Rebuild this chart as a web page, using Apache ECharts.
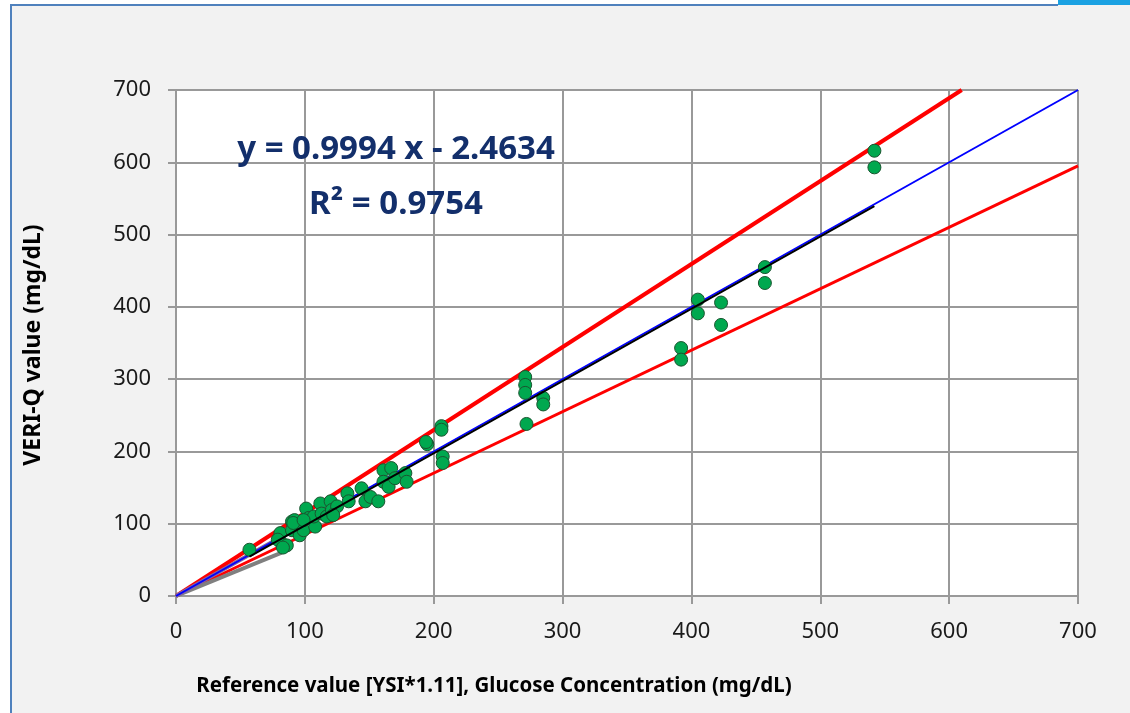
<!DOCTYPE html>
<html>
<head>
<meta charset="utf-8">
<script src="https://cdn.jsdelivr.net/npm/echarts@6/dist/echarts.min.js"></script>
<style>html,body{margin:0;padding:0;background:#fff}#c{width:1130px;height:713px}</style>
</head>
<body>
<div id="c"></div>
<script>
// Reference value (x) and VERI-Q value (y)
const refX = [57,81,82,79,86,83,90,92,94,90,96,99,101,103,108,107,91,99,112,113,117,120,121,125,122,133,134,144,147,151,157,161,167,161,165,170,178,179,195,194,206,206,207,207,271,271,271,272,285,285,392,392,405,405,423,423,457,457,542,542];
const veriY = [64,87,73,78,70,67,103,105,96,91,84,91,121,108,96,110,101,105,128,114,110,131,119,124,112,142,131,149,131,137,131,174,177,158,151,163,170,158,210,213,235,230,193,184,303,292,281,238,274,265,343,327,410,391,406,375,455,433,616,593];
const axisTicks = [0,100,200,300,400,500,600,700];
const regSlope = 0.9994, regIntercept = -2.4634;
const regRange = [57, 542];
const upperSlope = 1.148, lowerSlope = 0.85;
const identityLine = [[0,0],[700,700]];
const purpleSeg = [[0,0],[76,76]];
const graySeg = [[0,0],[82,60]];
const eqText = 'y = 0.9994 x - 2.4634';
const r2Text = 'R\u00b2 = 0.9754';
const xTitle = 'Reference value [YSI*1.11], Glucose Concentration (mg/dL)';
const yTitle = 'VERI-Q value (mg/dL)';

const AX_MIN = axisTicks[0], AX_MAX = axisTicks[axisTicks.length-1];
const upperLine = [[0,0],[AX_MAX/upperSlope, AX_MAX]];
const lowerLine = [[0,0],[AX_MAX, AX_MAX*lowerSlope]];
const regLine = regRange.map(x => [x, regSlope*x + regIntercept]);
const pts = refX.map((x,i) => [x, veriY[i]]);

const gridColor = '#999999';
const font = '"Noto Sans", "DejaVu Sans", sans-serif';
const axisCommon = {
  type: 'value', min: AX_MIN, max: AX_MAX, interval: 100,
  axisLine: {show: true, lineStyle: {color: gridColor, width: 2}},
  axisTick: {show: true, length: 8, lineStyle: {color: gridColor, width: 2}},
  splitLine: {show: true, lineStyle: {color: gridColor, width: 2}},
};
const lineSeries = (data, color, width, z) => ({
  type: 'line', data, showSymbol: false, symbol: 'none', silent: true,
  lineStyle: {color, width}, z, animation: false
});

const chart = echarts.init(document.getElementById('c'));
chart.setOption({
  backgroundColor: '#F2F2F2',
  animation: false,
  grid: {left: 176, top: 90, width: 902, height: 506, show: true, backgroundColor: '#ffffff', borderWidth: 0},
  xAxis: Object.assign({}, axisCommon, {
    axisLabel: {fontSize: 22, color: '#1a1a1a', margin: 25, fontFamily: font}
  }),
  yAxis: Object.assign({}, axisCommon, {
    axisLabel: {fontSize: 22, color: '#1a1a1a', margin: 25, fontFamily: font}
  }),
  series: [
    lineSeries(upperLine, '#FF0000', 4, 2),
    lineSeries(lowerLine, '#FF0000', 3, 2),
    lineSeries(graySeg, '#808080', 4, 3),
    lineSeries(purpleSeg, '#8064A2', 4, 3),
    lineSeries(identityLine, '#0000FF', 2, 3),
    {type: 'scatter', data: pts, symbolSize: 13, z: 4, animation: false,
     itemStyle: {color: '#00A84F', opacity: 1, borderColor: '#1a5530', borderWidth: 1}},
    lineSeries(regLine, '#000000', 2, 5)
  ],
  graphic: [
    {type: 'rect', shape: {x: 0, y: 0, width: 1130, height: 4}, style: {fill: '#ffffff'}, silent: true},
    {type: 'rect', shape: {x: 0, y: 0, width: 10, height: 713}, style: {fill: '#ffffff'}, silent: true},
    {type: 'rect', shape: {x: 10, y: 4, width: 1048, height: 2}, style: {fill: '#4F81BD'}, silent: true},
    {type: 'rect', shape: {x: 10, y: 4, width: 2, height: 709}, style: {fill: '#4F81BD'}, silent: true},
    {type: 'rect', shape: {x: 1058, y: 0, width: 72, height: 5}, style: {fill: '#1BA1E2'}, silent: true},
    {type: 'text', x: 396, y: 150, z: 10, style: {text: eqText, font: 'bold 33px ' + font, fill: '#132F6B', textAlign: 'center', textVerticalAlign: 'middle'}},
    {type: 'text', x: 396, y: 205, z: 10, style: {text: r2Text, font: 'bold 33px ' + font, fill: '#132F6B', textAlign: 'center', textVerticalAlign: 'middle'}},
    {type: 'text', x: 33, y: 345, rotation: Math.PI/2, z: 10, style: {text: yTitle, font: 'bold 23px ' + font, fill: '#000000', textAlign: 'center', textVerticalAlign: 'middle'}},
    {type: 'text', x: 494, y: 686, z: 10, style: {text: xTitle, font: 'bold 20.5px ' + font, fill: '#000000', textAlign: 'center', textVerticalAlign: 'middle'}}
  ]
});
</script>
</body>
</html>
